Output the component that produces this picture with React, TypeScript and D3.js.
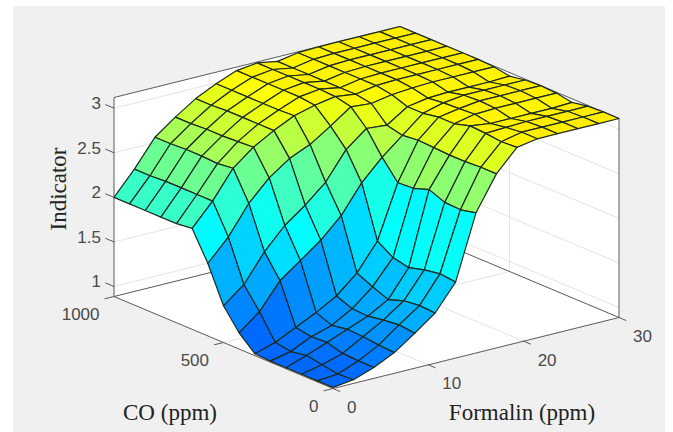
import React from 'react'
import * as d3 from 'd3'

// tick labels
const formalinTicks = [0, 10, 20, 30]
const coTicks = [0, 500, 1000]
const indicatorTicks = [1, 1.5, 2, 2.5, 3]
const indicatorLabels = ['1', '1.5', '2', '2.5', '3']

// mesh axes, 15 points each like gensurf
const formalinGrid = [0, 2.14, 4.29, 6.43, 8.57, 10.71, 12.86, 15, 17.14, 19.29, 21.43, 23.57, 25.71, 27.86, 30]
const coGrid = [0, 71.4, 142.9, 214.3, 285.7, 357.1, 428.6, 500, 571.4, 642.9, 714.3, 785.7, 857.1, 928.6, 1000]

// indicator values, one row per formalin step (co goes 0 -> 1000 in a row)
const row00 = [0.90, 0.90, 0.90, 0.90, 0.90, 0.91, 1.07, 1.30, 1.70, 2.02, 2.00, 2.00, 2.00, 2.00, 2.00]
const row01 = [0.93, 0.92, 0.95, 0.98, 0.95, 0.98, 1.25, 1.48, 1.94, 2.27, 2.27, 2.27, 2.27, 2.26, 2.26]
const row02 = [1.01, 1.01, 1.02, 1.07, 1.06, 1.09, 1.54, 1.79, 2.26, 2.58, 2.56, 2.57, 2.57, 2.56, 2.56]
const row03 = [1.12, 1.13, 1.15, 1.16, 1.13, 1.20, 1.71, 2.03, 2.49, 2.76, 2.75, 2.74, 2.74, 2.73, 2.73]
const row04 = [1.28, 1.30, 1.28, 1.25, 1.26, 1.33, 1.88, 2.20, 2.65, 2.89, 2.89, 2.89, 2.89, 2.88, 2.88]
const row05 = [1.45, 1.46, 1.44, 1.38, 1.45, 1.53, 2.10, 2.40, 2.75, 3.00, 2.99, 2.99, 2.99, 2.99, 2.99]
const row06 = [1.74, 1.76, 1.73, 1.68, 1.72, 1.83, 2.41, 2.71, 2.90, 3.06, 3.08, 3.08, 3.08, 3.08, 3.08]
const row07 = [2.46, 2.42, 2.43, 2.50, 2.44, 2.43, 2.64, 2.89, 3.06, 3.10, 3.11, 3.11, 3.11, 3.11, 3.11]
const row08 = [2.84, 2.84, 2.83, 2.83, 2.84, 2.85, 2.83, 2.87, 3.04, 3.07, 3.07, 3.07, 3.07, 3.07, 3.07]
const row09 = [3.08, 3.07, 3.09, 3.10, 3.05, 3.05, 3.02, 3.02, 3.08, 3.11, 3.11, 3.11, 3.11, 3.11, 3.11]
const row10 = [3.12, 3.12, 3.10, 3.07, 3.10, 3.09, 3.08, 3.06, 3.10, 3.12, 3.12, 3.12, 3.12, 3.12, 3.12]
const row11 = [3.12, 3.12, 3.11, 3.07, 3.11, 3.12, 3.11, 3.07, 3.11, 3.12, 3.12, 3.12, 3.12, 3.12, 3.12]
const row12 = [3.12, 3.12, 3.11, 3.07, 3.11, 3.12, 3.11, 3.07, 3.11, 3.12, 3.12, 3.12, 3.12, 3.12, 3.12]
const row13 = [3.12, 3.12, 3.11, 3.07, 3.11, 3.12, 3.11, 3.07, 3.11, 3.12, 3.12, 3.12, 3.12, 3.12, 3.12]
const row14 = [3.12, 3.12, 3.11, 3.08, 3.11, 3.12, 3.11, 3.08, 3.11, 3.12, 3.12, 3.12, 3.12, 3.12, 3.12]
const indicator = [row00, row01, row02, row03, row04, row05, row06, row07, row08, row09, row10, row11, row12, row13, row14]

const W = 673
const H = 432
const zMin = 0.888
const zMax = 3.12

// orthographic view: each data axis only adds its own screen offset
const fx = d3.scaleLinear().domain([0, 30]).range([0, 286])
const fy = d3.scaleLinear().domain([0, 30]).range([0, -71])
const cx = d3.scaleLinear().domain([0, 1000]).range([0, -219])
const cy = d3.scaleLinear().domain([0, 1000]).range([0, -92])
const zy = d3.scaleLinear().domain([zMin, zMax]).range([0, -199])

const project = (f: number, co: number, z: number): [number, number] => [
  333 + fx(f) + cx(co),
  388.5 + fy(f) + cy(co) + zy(z),
]
const pts = (list: [number, number][]) => list.map((p) => p.map((v) => v.toFixed(1)).join(',')).join(' ')
const seg = (a: [number, number], b: [number, number], stroke: string, sw = 1) => (
  <line x1={a[0]} y1={a[1]} x2={b[0]} y2={b[1]} stroke={stroke} strokeWidth={sw} />
)

const color = d3
  .scaleLinear<string>()
  .domain([0.34, 1.72, 3.0, 3.12])
  .range(['#0000ff', '#00ffff', '#ffff00', '#ffee00'])
  .clamp(true)

const gridColor = '#e4e4e4'
const axisColor = '#5a5a5a'
const textColor = '#4a4a4a'

export default function App() {
  // painter's order, far corner of the mesh first
  const faces: { i: number; j: number }[] = []
  for (let i = 0; i < 14; i++) for (let j = 0; j < 14; j++) faces.push({ i, j })
  faces.sort((a, b) => b.i + b.j - (a.i + a.j))

  const tickLen = 0.33
  return (
    <svg width={W} height={H} style={{ position: 'absolute', left: 0, top: 0, display: 'block' }}>
      <rect x={13} y={6} width={652} height={H - 6} fill="#f0f0f0" />

      {/* floor and the two back walls */}
      <polygon points={pts([project(0, 0, zMin), project(30, 0, zMin), project(30, 1000, zMin), project(0, 1000, zMin)])} fill="#fff" />
      <polygon points={pts([project(0, 1000, zMin), project(0, 1000, zMax), project(30, 1000, zMax), project(30, 1000, zMin)])} fill="#fff" />
      <polygon points={pts([project(30, 1000, zMin), project(30, 1000, zMax), project(30, 0, zMax), project(30, 0, zMin)])} fill="#fff" />

      {/* grid */}
      {formalinTicks.slice(1, 3).map((f) => (
        <g key={'gf' + f}>
          {seg(project(f, 0, zMin), project(f, 1000, zMin), gridColor)}
          {seg(project(f, 1000, zMin), project(f, 1000, zMax), gridColor)}
        </g>
      ))}
      <g>
        {seg(project(0, 500, zMin), project(30, 500, zMin), gridColor)}
        {seg(project(30, 500, zMin), project(30, 500, zMax), gridColor)}
      </g>
      {indicatorTicks.map((z) => (
        <g key={'gz' + z}>
          {seg(project(0, 1000, z), project(30, 1000, z), gridColor)}
          {seg(project(30, 1000, z), project(30, 0, z), gridColor)}
        </g>
      ))}

      {/* box */}
      {seg(project(0, 1000, zMin), project(0, 1000, zMax), axisColor)}
      {seg(project(30, 0, zMin), project(30, 0, zMax), axisColor)}
      {seg(project(0, 1000, zMax), project(30, 1000, zMax), axisColor)}
      {seg(project(30, 1000, zMax), project(30, 0, zMax), axisColor)}
      {seg(project(0, 1000, zMin), project(30, 1000, zMin), axisColor)}
      {seg(project(30, 1000, zMin), project(30, 0, zMin), axisColor)}
      {seg(project(0, 1000, zMin), project(0, 0, zMin), axisColor)}
      {seg(project(0, 0, zMin), project(30, 0, zMin), axisColor)}

      {/* ticks */}
      {formalinTicks.map((f) => (
        <g key={'tf' + f}>{seg(project(f, 0, zMin), project(f, -tickLen * 100, zMin), axisColor)}</g>
      ))}
      {coTicks.map((c) => (
        <g key={'tc' + c}>{seg(project(0, c, zMin), project(-tickLen * 3, c, zMin), axisColor)}</g>
      ))}
      {indicatorTicks.map((z) => (
        <g key={'tz' + z}>{seg(project(0, 1000, z), project(0, 1040, z), axisColor)}</g>
      ))}

      {/* surface */}
      {faces.map(({ i, j }) => {
        const corners: [number, number][] = [
          project(formalinGrid[i], coGrid[j], indicator[i][j]),
          project(formalinGrid[i + 1], coGrid[j], indicator[i + 1][j]),
          project(formalinGrid[i + 1], coGrid[j + 1], indicator[i + 1][j + 1]),
          project(formalinGrid[i], coGrid[j + 1], indicator[i][j + 1]),
        ]
        return (
          <polygon
            key={i + '-' + j}
            points={pts(corners)}
            fill={color(indicator[i][j])}
            stroke="#1c2a20"
            strokeWidth={1.2}
            strokeLinejoin="round"
          />
        )
      })}

      {/* tick labels */}
      <g fontFamily="'Liberation Sans', Arial, sans-serif" fontSize={17} fill={textColor}>
        {indicatorTicks.map((z, k) => (
          <text key={z} x={101} y={project(0, 1000, z)[1] - 5} dy="0.35em" textAnchor="end">
            {indicatorLabels[k]}
          </text>
        ))}
        {coTicks.map((c) => {
          const p = project(0, c, zMin)
          return (
            <text key={c} x={p[0] - 14.5} y={p[1] + 17.5} dy="0.35em" textAnchor="end">
              {c}
            </text>
          )
        })}
        {formalinTicks.map((f) => {
          const p = project(f, 0, zMin)
          return (
            <text key={f} x={p[0] + 14} y={p[1] + 18.5} dy="0.35em" textAnchor="start">
              {f}
            </text>
          )
        })}
      </g>

      {/* axis titles */}
      <g fontFamily="'Liberation Serif', 'Times New Roman', serif" fontSize={23} fill="#222">
        <text x={170} y={412} dy="0.35em" textAnchor="middle">CO (ppm)</text>
        <text x={522} y={412} dy="0.35em" textAnchor="middle">Formalin (ppm)</text>
        <text transform="translate(58,189) rotate(-90)" dy="0.35em" textAnchor="middle">Indicator</text>
      </g>
    </svg>
  )
}
